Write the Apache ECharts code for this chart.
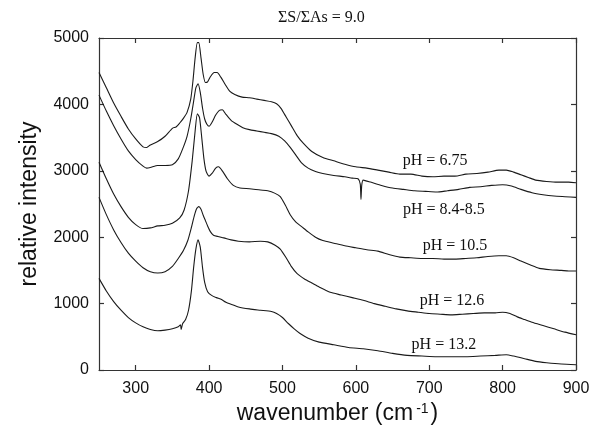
<!DOCTYPE html>
<html>
<head>
<meta charset="utf-8">
<script src="https://cdn.jsdelivr.net/npm/echarts@6/dist/echarts.min.js"></script>
<style>
    html, body { margin: 0; padding: 0; background: #fff; }
    #chart { width: 600px; height: 444px; }
</style>
</head>
<body>
<div id="chart"></div>
<script>
    // x tick values (wavenumber, cm-1) and y tick values
    const xTicks = [300, 400, 500, 600, 700, 800, 900];
    const yTicks = [0, 1000, 2000, 3000, 4000, 5000];

    const names = ['pH = 6.75', 'pH = 8.4-8.5', 'pH = 10.5', 'pH = 12.6', 'pH = 13.2'];

    // [wavenumber, intensity]
    const ph675 = [
        [250, 4480], [260, 4250], [270, 4020], [280, 3820], [290, 3630], [300, 3480], [310, 3360], [315, 3350],
        [320, 3390], [330, 3440], [340, 3520], [350, 3640], [355, 3660], [360, 3720], [365, 3790], [370, 3880],
        [375, 4080], [378, 4350], [381, 4700], [384, 4930], [386, 4930], [389, 4700], [392, 4450], [395, 4330],
        [398, 4340], [402, 4420], [407, 4480], [411, 4480], [416, 4410], [422, 4300], [428, 4200], [435, 4150],
        [445, 4110], [455, 4100], [465, 4080], [475, 4060], [485, 4040], [492, 4010], [498, 3940], [505, 3810],
        [512, 3680], [520, 3530], [528, 3420], [540, 3290], [555, 3200], [570, 3150], [585, 3100], [600, 3060],
        [615, 3040], [630, 3010], [645, 2980], [660, 2950], [675, 2950], [690, 2920], [705, 2910], [720, 2920],
        [735, 2920], [750, 2950], [765, 2960], [780, 2980], [795, 3010], [805, 3010], [815, 2980], [825, 2940],
        [835, 2900], [845, 2860], [860, 2840], [875, 2830], [890, 2830], [900, 2820]
    ];
    const ph84 = [
        [250, 4140], [260, 3900], [270, 3680], [280, 3480], [290, 3300], [300, 3170], [310, 3070], [315, 3040],
        [320, 3050], [330, 3080], [340, 3080], [350, 3090], [358, 3180], [364, 3330], [370, 3520], [375, 3780],
        [379, 4050], [382, 4250], [385, 4310], [388, 4180], [391, 3950], [394, 3780], [397, 3700], [400, 3670],
        [404, 3730], [409, 3840], [414, 3910], [418, 3920], [423, 3850], [430, 3760], [438, 3700], [446, 3650],
        [455, 3620], [465, 3600], [475, 3580], [485, 3560], [495, 3520], [503, 3450], [510, 3360], [518, 3240],
        [526, 3120], [535, 3040], [545, 2990], [555, 2960], [570, 2930], [585, 2910], [595, 2890], [603, 2880],
        [606, 2800], [607, 2570], [608, 2780], [610, 2860], [620, 2830], [635, 2780], [650, 2740], [665, 2720],
        [680, 2700], [695, 2690], [710, 2680], [725, 2700], [740, 2720], [755, 2750], [770, 2760], [785, 2780],
        [800, 2790], [812, 2770], [825, 2720], [840, 2670], [855, 2640], [870, 2620], [885, 2610], [900, 2600]
    ];
    const ph105 = [
        [250, 3130], [260, 2880], [270, 2650], [280, 2460], [290, 2300], [300, 2190], [310, 2130], [320, 2140],
        [330, 2170], [340, 2180], [350, 2210], [360, 2290], [366, 2410], [372, 2700], [377, 3150], [381, 3600],
        [384, 3860], [387, 3800], [390, 3500], [393, 3180], [396, 2990], [400, 2920], [404, 2960], [409, 3040],
        [413, 3060], [418, 3000], [425, 2880], [433, 2780], [442, 2740], [455, 2730], [470, 2710], [480, 2700],
        [490, 2660], [497, 2610], [504, 2480], [511, 2330], [518, 2230], [526, 2160], [535, 2080], [545, 2000],
        [555, 1950], [570, 1910], [585, 1870], [600, 1840], [615, 1810], [630, 1790], [645, 1740], [660, 1700],
        [675, 1690], [690, 1680], [705, 1680], [720, 1670], [735, 1670], [750, 1680], [765, 1690], [780, 1710],
        [795, 1720], [805, 1720], [815, 1690], [825, 1640], [838, 1580], [850, 1530], [865, 1510], [880, 1500],
        [890, 1490], [900, 1490]
    ];
    const ph126 = [
        [250, 2600], [260, 2340], [270, 2110], [280, 1920], [290, 1760], [300, 1640], [310, 1540], [320, 1480],
        [330, 1460], [340, 1480], [350, 1560], [358, 1680], [365, 1800], [371, 1950], [376, 2150], [380, 2330],
        [383, 2430], [386, 2460], [389, 2420], [392, 2330], [395, 2250], [398, 2170], [402, 2080], [406, 2030],
        [412, 2010], [420, 1990], [430, 1960], [440, 1940], [455, 1930], [470, 1940], [480, 1930], [490, 1880],
        [497, 1820], [505, 1690], [512, 1560], [520, 1450], [530, 1370], [540, 1310], [550, 1250], [565, 1170],
        [580, 1130], [595, 1090], [610, 1050], [625, 1000], [640, 960], [655, 920], [670, 890], [685, 870],
        [700, 850], [715, 840], [730, 830], [745, 840], [760, 850], [775, 860], [790, 860], [800, 870],
        [810, 850], [820, 800], [830, 760], [840, 720], [855, 670], [870, 620], [885, 570], [900, 530]
    ];
    const ph132 = [
        [250, 1380], [260, 1190], [270, 1030], [280, 900], [290, 790], [300, 710], [310, 650], [320, 610],
        [330, 590], [340, 600], [350, 620], [358, 650], [361, 680], [362, 610], [364, 700], [368, 760],
        [372, 900], [376, 1200], [379, 1550], [382, 1820], [385, 1960], [388, 1850], [391, 1550], [394, 1320],
        [398, 1180], [404, 1120], [410, 1090], [417, 1060], [423, 1020], [430, 990], [440, 950], [455, 920],
        [470, 900], [485, 880], [492, 850], [500, 790], [508, 700], [516, 620], [524, 550], [535, 480],
        [550, 420], [570, 380], [590, 340], [610, 320], [630, 290], [650, 250], [670, 220], [690, 210],
        [710, 200], [730, 200], [750, 200], [770, 210], [790, 220], [805, 230], [815, 210], [830, 170],
        [845, 130], [860, 110], [880, 90], [900, 80]
    ];

    const spectra = [ph675, ph84, ph105, ph126, ph132];
    // where each pH label sits, in data coordinates
    const labelCoords = [[708, 3150], [720, 2420], [735, 1870], [731, 1040], [720, 375]];

    const chart = echarts.init(document.getElementById('chart'));

    const frame = { show: true, onZero: false, lineStyle: { color: '#333', width: 1.2 } };
    const tickIn = { show: true, inside: true, length: 5, lineStyle: { color: '#333', width: 1.2 } };

    const option = {
        animation: false,
        backgroundColor: '#fff',
        grid: { left: 99, right: 24, top: 38, bottom: 74 },
        graphic: [
            {
                type: 'text', left: 278, top: 10,
                style: { text: 'ΣS/ΣAs = 9.0', fontFamily: 'Liberation Serif', fontSize: 16, fill: '#111' }
            }
        ],
        xAxis: [
            {
                type: 'value', min: 250, max: 900, position: 'bottom',
                axisLine: frame,
                axisTick: Object.assign({ customValues: xTicks }, tickIn),
                axisLabel: { customValues: xTicks, margin: 11, color: '#111', fontSize: 16, fontFamily: 'Liberation Sans' },
                splitLine: { show: false },
                name: 'wavenumber (cm{sup|-1})', nameLocation: 'middle', nameGap: 30,
                nameTextStyle: {
                    color: '#111', fontSize: 23, fontFamily: 'Liberation Sans',
                    rich: { sup: { fontSize: 14, fontFamily: 'Liberation Sans', color: '#111', verticalAlign: 'top', lineHeight: 12, padding: [0, 2, 0, 3] } }
                }
            },
            {
                type: 'value', min: 250, max: 900, position: 'top',
                axisLine: frame,
                axisTick: Object.assign({ customValues: xTicks }, tickIn),
                axisLabel: { show: false },
                splitLine: { show: false }
            }
        ],
        yAxis: [
            {
                type: 'value', min: 0, max: 5000, interval: 1000, position: 'left',
                axisLine: frame, axisTick: tickIn,
                axisLabel: {
                    margin: 10, color: '#111', fontSize: 16, fontFamily: 'Liberation Sans',
                    formatter: function (v) { return String(v); }
                },
                splitLine: { show: false },
                name: 'relative intensity', nameLocation: 'middle', nameGap: 58,
                nameTextStyle: { color: '#111', fontSize: 23, fontFamily: 'Liberation Sans' }
            },
            {
                type: 'value', min: 0, max: 5000, interval: 1000, position: 'right',
                axisLine: frame, axisTick: tickIn,
                axisLabel: { show: false },
                splitLine: { show: false }
            }
        ],
        series: spectra.map(function (d, i) {
            return {
                name: names[i],
                type: 'line',
                data: d,
                showSymbol: false,
                smooth: 0.2,
                lineStyle: { color: '#1a1a1a', width: 1.1 },
                markPoint: {
                    symbol: 'rect',
                    symbolSize: 1,
                    itemStyle: { color: 'rgba(0,0,0,0)' },
                    label: {
                        show: true, position: 'inside', formatter: names[i], color: '#111',
                        fontFamily: 'Liberation Serif', fontSize: 16
                    },
                    data: [{ coord: labelCoords[i] }]
                }
            };
        })
    };
    chart.setOption(option);
</script>
</body>
</html>
